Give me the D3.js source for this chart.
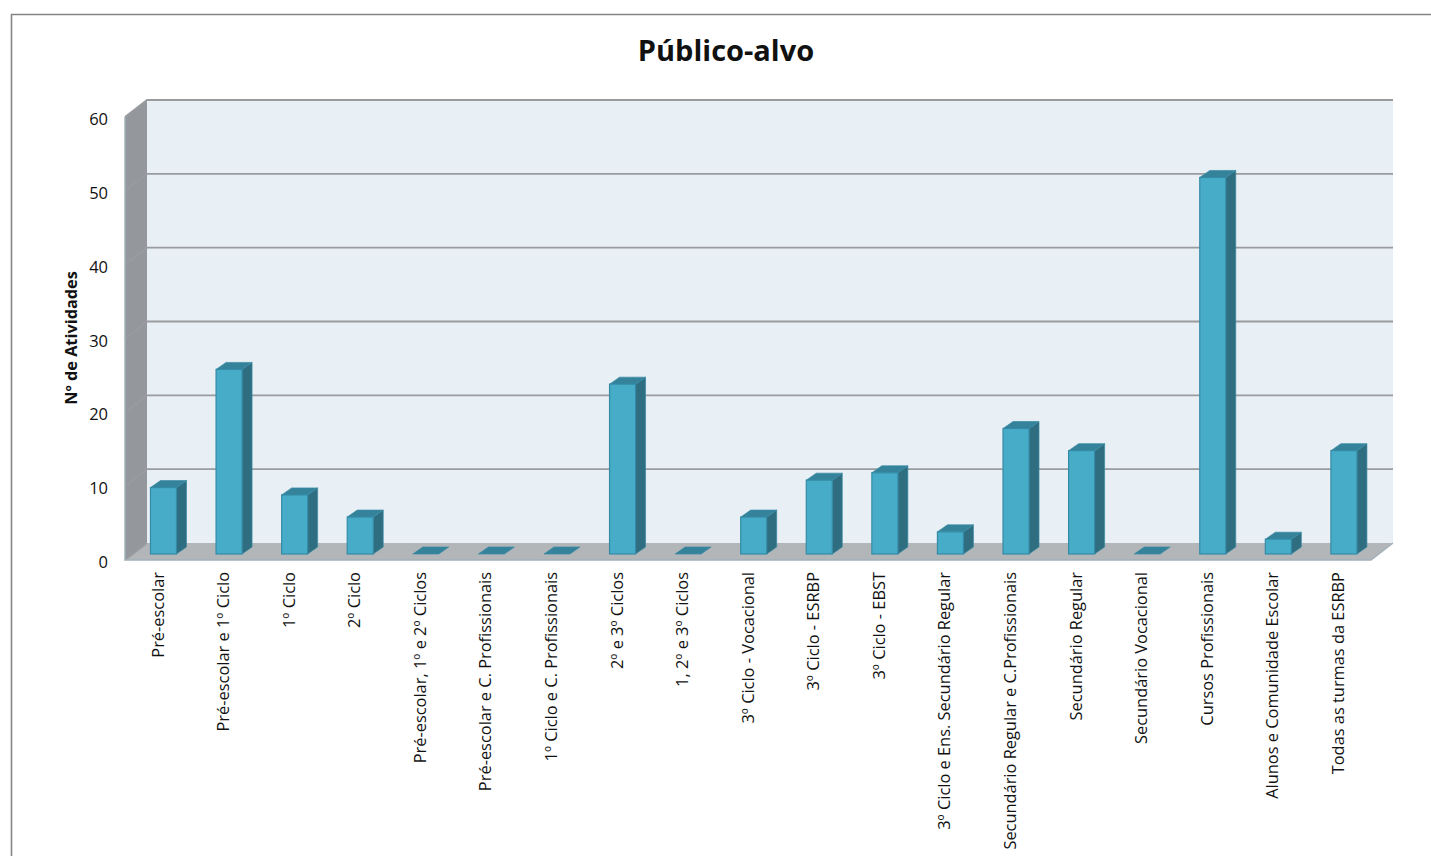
<!DOCTYPE html>
<html><head><meta charset="utf-8">
<script src="https://cdn.jsdelivr.net/npm/d3@7"></script>
<style>html,body{margin:0;padding:0;background:#fff;overflow:hidden}svg{display:block}text{font-family:"Open Sans",Lato,sans-serif;fill:#111}</style>
</head><body><svg id="c" width="1431" height="856"></svg>
<script>
const categories=["Pré-escolar","Pré-escolar e 1º Ciclo","1º Ciclo","2º Ciclo","Pré-escolar, 1º e 2º Ciclos","Pré-escolar e C. Profissionais","1º Ciclo e C. Profissionais","2º e 3º Ciclos","1, 2º e 3º Ciclos","3º Ciclo - Vocacional","3º Ciclo - ESRBP","3º Ciclo - EBST","3º Ciclo e Ens. Secundário Regular","Secundário Regular e C.Profissionais","Secundário Regular","Secundário Vocacional","Cursos Profissionais","Alunos e Comunidade Escolar","Todas as turmas da ESRBP"];
const values=[9,25,8,5,0,0,0,23,0,5,10,11,3,17,14,0,51,2,14];
const yTicks=[0,10,20,30,40,50,60];
const title="Público-alvo", yTitle="Nº de Atividades";

const svg=d3.select("#c");
const wall={dx:22,dy:-17}, bar={dx:10,dy:-7,w:26,inX:5.7,inY:-6};
const x=d3.scaleBand().domain(categories).range([125,1371]);
const y=d3.scaleLinear().domain([0,60]).range([560,117]);
const poly=p=>p.map(d=>d.join(",")).join(" ");
const x0=x.range()[0],x1=x.range()[1],y0=y(0),yT=y(60);

svg.append("path").attr("d","M1431,14.5H11.5V856").attr("fill","none").attr("stroke","#868686").attr("stroke-width",1.6);

// walls
svg.append("polygon").attr("points",poly([[x0+wall.dx,yT+wall.dy],[x1+wall.dx,yT+wall.dy],[x1+wall.dx,y0+wall.dy],[x0+wall.dx,y0+wall.dy]])).attr("fill","#e8eff5");
svg.append("polygon").attr("points",poly([[x0,yT],[x0+wall.dx,yT+wall.dy],[x0+wall.dx,y0+wall.dy],[x0,y0]])).attr("fill","#94989c");
svg.append("polygon").attr("points",poly([[x0,y0],[x0+wall.dx,y0+wall.dy],[x1+wall.dx,y0+wall.dy],[x1,y0]])).attr("fill","#b2b6b9");

// gridlines
svg.selectAll("path.grid").data(yTicks).join("path").attr("class","grid")
 .attr("d",d=>d===0?`M${x0},${y(d)}L${x0+wall.dx},${y(d)+wall.dy}`:`M${x0},${y(d)}L${x0+wall.dx},${y(d)+wall.dy}H${x1+wall.dx}`)
 .attr("fill","none").attr("stroke","#999c9f").attr("stroke-width",1.8);

// axis lines
svg.append("path").attr("d",`M${x0},${yT}V${y0}H${x1}L${x1+wall.dx},${y0+wall.dy}`).attr("fill","none").attr("stroke","#a3b1bb").attr("stroke-width",1.5);

// bars
const g=svg.selectAll("g.bar").data(categories.map((c,i)=>({c,v:values[i]}))).join("g").attr("class","bar");
const L=d=>x(d.c)+x.bandwidth()/2-bar.w/2+bar.inX, R=d=>L(d)+bar.w, B=()=>y0+bar.inY, T=d=>y(d.v)+bar.inY;
g.filter(d=>d.v>0).append("polygon").attr("points",d=>poly([[R(d),T(d)],[R(d)+bar.dx,T(d)+bar.dy],[R(d)+bar.dx,B()+bar.dy],[R(d),B()]])).attr("fill","#2f6d80").attr("stroke","#3a8ba3").attr("stroke-width",.7);
g.append("polygon").attr("points",d=>poly([[L(d),T(d)],[L(d)+bar.dx,T(d)+bar.dy],[R(d)+bar.dx,T(d)+bar.dy],[R(d),T(d)]])).attr("fill","#35829b").attr("stroke","#3a8ba3").attr("stroke-width",.7);
g.filter(d=>d.v>0).append("rect").attr("x",L).attr("y",T).attr("width",bar.w).attr("height",d=>B()-T(d)).attr("fill","#47acc8").attr("stroke","#358ba6").attr("stroke-width",1.2);

// texts
svg.selectAll("text.yt").data(yTicks).join("text").attr("class","yt").attr("x",108).attr("y",d=>y(d)+8).attr("text-anchor","end").attr("font-size",16.5).text(d=>d);
svg.selectAll("text.xt").data(categories).join("text").attr("class","xt")
 .attr("transform",d=>`translate(${x(d)+x.bandwidth()/2},572) rotate(-90)`).attr("text-anchor","end").attr("font-size",16.4).attr("dy","0.35em").text(d=>d);
svg.append("text").attr("x",726).attr("y",61).attr("text-anchor","middle").attr("font-size",29).attr("font-weight",700).text(title);
svg.append("text").attr("transform",`translate(77,338) rotate(-90)`).attr("text-anchor","middle").attr("font-size",16.3).attr("font-weight",700).text(yTitle);
</script></body></html>
